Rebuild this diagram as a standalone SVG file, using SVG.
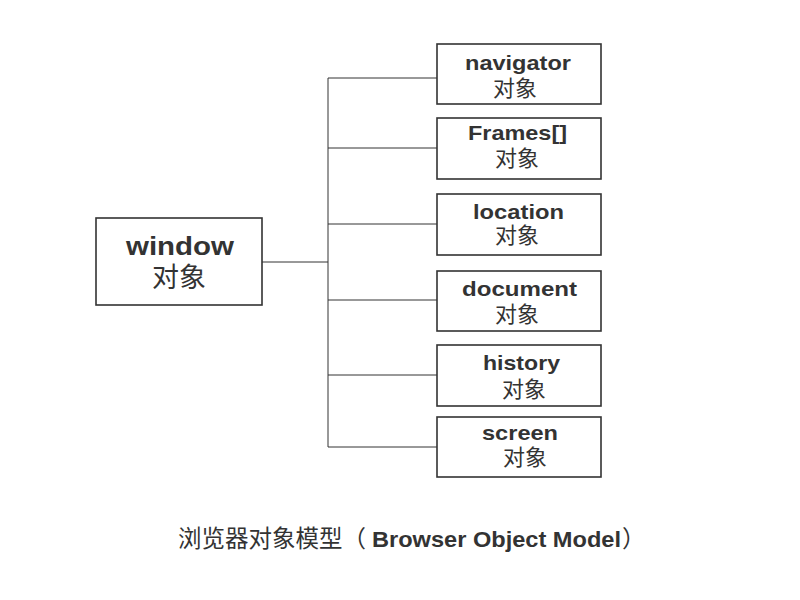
<svg xmlns="http://www.w3.org/2000/svg" width="800" height="600" viewBox="0 0 800 600">
<style>
.box{fill:#fff;stroke:#333;stroke-width:1.6}
.en{font-family:"Liberation Sans",Arial,sans-serif;font-weight:bold;fill:#333;font-size:21px}
.zh{font-family:"Noto Sans CJK SC","Liberation Sans",sans-serif;fill:#333;font-size:22px}
.ln{stroke:#333;stroke-width:1;fill:none}
</style>
<rect width="800" height="600" fill="#fff"/>
<g id="connectors">
<path class="ln" d="M262,262H328M328,78V447M328,78H437M328,148H437M328,224H437M328,300H437M328,375H437M328,447H437"/>
</g>
<g id="window">
<rect class="box" x="96" y="218" width="166" height="87"/>
<text class="en" x="126" y="255" style="font-size:26px" textLength="108" lengthAdjust="spacingAndGlyphs">window</text>
<text class="zh" x="152" y="287" style="font-size:27px">对象</text>
</g>
<g id="navigator">
<rect class="box" x="437" y="44" width="164" height="60"/>
<text class="en" x="465" y="70" textLength="106" lengthAdjust="spacingAndGlyphs">navigator</text>
<text class="zh" x="493" y="96">对象</text>
</g>
<g id="frames">
<rect class="box" x="437" y="118" width="164" height="61"/>
<text class="en" x="468" y="140" textLength="99" lengthAdjust="spacingAndGlyphs">Frames[]</text>
<text class="zh" x="495" y="166">对象</text>
</g>
<g id="location">
<rect class="box" x="437" y="194" width="164" height="61"/>
<text class="en" x="473" y="219" textLength="91" lengthAdjust="spacingAndGlyphs">location</text>
<text class="zh" x="495" y="243">对象</text>
</g>
<g id="document">
<rect class="box" x="437" y="271" width="164" height="60"/>
<text class="en" x="462" y="296" textLength="115" lengthAdjust="spacingAndGlyphs">document</text>
<text class="zh" x="495" y="322">对象</text>
</g>
<g id="history">
<rect class="box" x="437" y="345" width="164" height="61"/>
<text class="en" x="483" y="370" textLength="77" lengthAdjust="spacingAndGlyphs">history</text>
<text class="zh" x="502" y="397">对象</text>
</g>
<g id="screen">
<rect class="box" x="437" y="417" width="164" height="60"/>
<text class="en" x="482" y="440" textLength="76" lengthAdjust="spacingAndGlyphs">screen</text>
<text class="zh" x="503" y="465">对象</text>
</g>
<g id="title">
<text x="178" y="547" fill="#333" style="font-size:23.5px" font-family="Noto Sans CJK SC,Liberation Sans,sans-serif">浏览器对象模型（<tspan x="372" font-family="Liberation Sans,Arial,sans-serif" font-weight="bold" style="font-size:22px" textLength="249" lengthAdjust="spacingAndGlyphs">Browser Object Model</tspan><tspan x="622">）</tspan></text>
</g>
</svg>
